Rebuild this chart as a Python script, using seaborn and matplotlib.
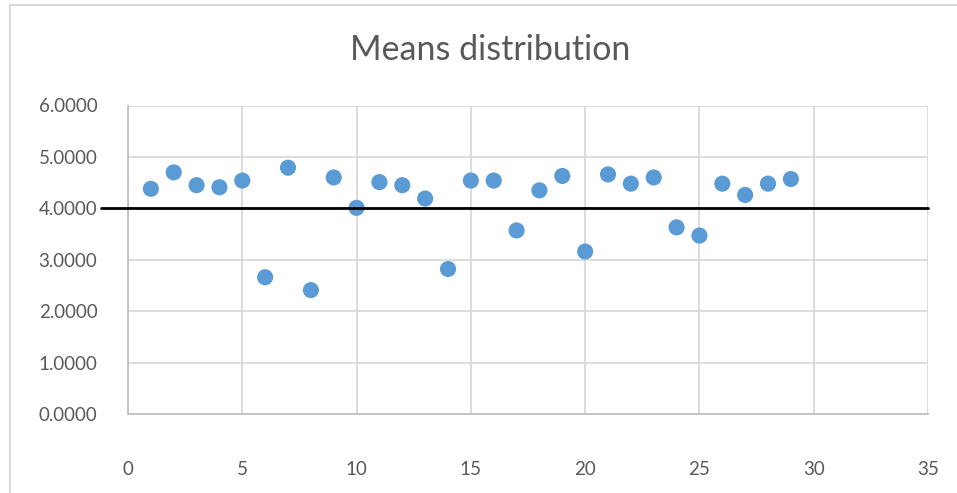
import matplotlib
matplotlib.use('Agg')
import matplotlib.pyplot as plt
import numpy as np
import pandas as pd
import seaborn as sns
from matplotlib.patches import Rectangle

# values
sample_ids = list(range(1, 30))
means = [4.38, 4.70, 4.45, 4.41, 4.54, 2.66, 4.79, 2.41, 4.60, 4.01,
         4.51, 4.45, 4.19, 2.82, 4.54, 4.54, 3.57, 4.35, 4.63, 3.16,
         4.66, 4.48, 4.60, 3.63, 3.47, 4.48, 4.26, 4.48, 4.57]
ref_level = 4.0
x_ticks = [0, 5, 10, 15, 20, 25, 30, 35]
y_ticks = [0, 1, 2, 3, 4, 5, 6]

GREY_TXT = '#595959'
GRID = '#d9d9d9'
DOT = '#5b9bd5'


def main():
    sns.set_style('white')
    plt.rcParams['font.family'] = ['Lato', 'DejaVu Sans']

    df = pd.DataFrame({'sample': sample_ids, 'mean': means})

    fig = plt.figure(figsize=(9.57, 4.93), dpi=100)
    ax = fig.add_axes([128 / 957, 1 - 414 / 493, 800 / 957, 308.5 / 493])

    # chart area border (left/top edges visible in the screenshot)
    fig.patches.append(Rectangle((10 / 957, -0.1), 1.2, 1 - 5 / 493 + 0.1,
                                 transform=fig.transFigure, fill=False,
                                 edgecolor='#d9d9d9', linewidth=1.5))

    sns.scatterplot(data=df, x='sample', y='mean', ax=ax, color=DOT,
                    s=135, edgecolor='none', zorder=3, legend=False)

    # horizontal reference line, extends a bit left of the plot area
    ax.plot([-1.2, 35], [ref_level, ref_level], color='black', lw=2,
            clip_on=False, zorder=4)

    ax.set_xlim(0, 35)
    ax.set_ylim(0, 6)
    ax.set_xticks(x_ticks)
    ax.set_yticks(y_ticks)
    ax.set_xticklabels([str(t) for t in x_ticks])
    ax.set_yticklabels([f'{t:.4f}' for t in y_ticks])
    ax.tick_params(axis='both', length=0, labelsize=13.5, labelcolor=GREY_TXT)
    ax.tick_params(axis='x', pad=34)
    ax.tick_params(axis='y', pad=22)
    ax.grid(True, color=GRID, linewidth=1.3, zorder=0)
    ax.set_axisbelow(True)

    for side in ['top', 'right']:
        ax.spines[side].set_visible(False)
    ax.spines['left'].set_color('#bfbfbf')
    ax.spines['bottom'].set_color('#bfbfbf')
    ax.spines['left'].set_linewidth(1.3)
    ax.spines['bottom'].set_linewidth(1.3)

    ax.set_xlabel('')
    ax.set_ylabel('')
    fig.text(490 / 957, 1 - 50 / 493, 'Means distribution', ha='center',
             va='center', fontsize=24.5, color=GREY_TXT, fontweight='normal')

    fig.savefig('out.png', dpi=100)


if __name__ == '__main__':
    main()
